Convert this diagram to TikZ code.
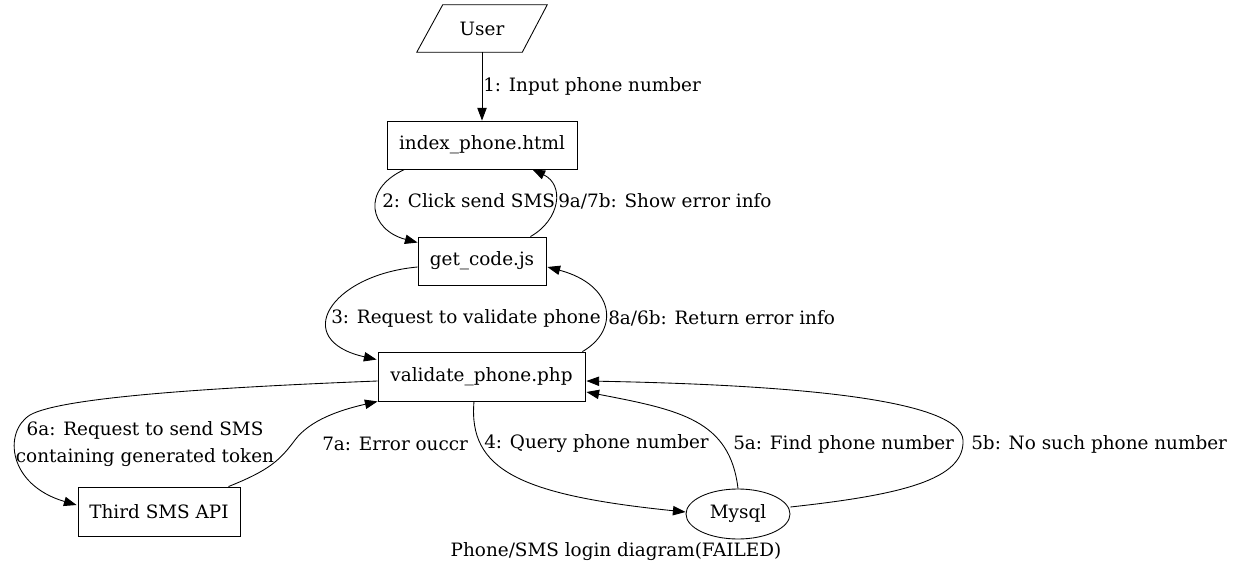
\documentclass[tikz,border=0pt]{standalone}
\usepackage{fontspec}
\setmainfont{DejaVu Serif}
\usetikzlibrary{arrows.meta,shapes.geometric,calc}
\tikzset{
  lbl/.style={font=\fontsize{13.8}{20}\selectfont, inner sep=0pt},
  box/.style={draw, line width=0.65pt, rectangle, inner sep=0pt, font=\fontsize{13.8}{16}\selectfont},
  edge/.style={line width=0.65pt, -{Triangle[length=9.5pt,width=7pt]}}
}
\begin{document}
\begin{tikzpicture}[x=0.75pt,y=-0.75pt]
\useasboundingbox (0,0) rectangle (1234,573);
% nodes
\node[inner sep=0pt, minimum width=97.5pt, minimum height=35.25pt, font=\fontsize{13.8}{16}\selectfont] (user) at (482,28.5) {User};
\draw[line width=0.65pt] ($(user.north west)+(26,0)$) -- (user.north east) -- ($(user.south east)+(-25,0)$) -- (user.south west) -- cycle;
\node[box, minimum width=142.5pt, minimum height=36pt] (idx) at (482,145) {index\_phone.html};
\node[box, minimum width=96pt, minimum height=36pt] (gc) at (482,261) {get\_code.js};
\node[box, minimum width=155.25pt, minimum height=36.75pt] (val) at (481.5,376.5) {validate\_phone.php};
\node[box, minimum width=121.5pt, minimum height=36.75pt] (sms) at (159,511.5) {Third SMS API};
\node[box, ellipse, minimum width=78pt, minimum height=37.5pt] (db) at (738,514) {Mysql};
\node[lbl] (cap) at (616,552) {Phone/SMS login diagram(FAILED)};
% edges
\draw[edge] (user.south) -- (idx.north);
\node[lbl, anchor=west] (l1) at (483,86) {1: Input phone number};

\draw[edge] ($(idx.south west)+(18,0)$) .. controls (360,190) and (370,230) .. ($(gc.north west)+(0,6)$);
\node[lbl, anchor=west] (l2) at (382,201) {2: Click send SMS};

\draw[edge] ($(gc.north east)+(-16,0)$) .. controls (560,220) and (565,185) .. ($(idx.south east)+(-45,0)$);
\node[lbl, anchor=west] (l3) at (558,201) {9a/7b: Show error info};

\draw[edge] ($(gc.west)+(0,6)$) .. controls (330,275) and (290,340) .. ($(val.north west)+(-1,8)$);
\node[lbl, anchor=west] (l4) at (331,318) {3: Request to validate phone};

\draw[edge] ($(val.north east)+(-3,0)$) .. controls (620,330) and (615,285) .. ($(gc.east)+(1,6)$);
\node[lbl, anchor=west] (l5) at (608,318) {8a/6b: Return error info};

\draw[edge] ($(val.west)+(0,4.5)$) .. controls (200,388) and (60,398) .. (30,415) .. controls (3,432) and (8,485) .. ($(sms.west)+(-1,-6.5)$);
\node[lbl, align=center] (l6) at (145,444) {6a: Request to send SMS\\containing generated token};

\draw[edge] ($(sms.north east)+(-12,0)$) .. controls (270,470) and (280,460) .. (295,440) .. controls (310,420) and (340,410) .. ($(val.south west)+(0,0)$);
\node[lbl, anchor=west] (l7) at (322,444) {7a: Error ouccr};

\draw[edge] ($(val.south)+(-7.5,0)$) .. controls (468,470) and (520,495) .. ($(db.west)+(0,-2)$);
\node[lbl, anchor=west] (l8) at (484,444) {4: Query phone number};

\draw[edge] (db.north) .. controls (730,420) and (680,410) .. ($(val.east)+(1,15.5)$);
\node[lbl, anchor=west] (l9) at (733,444) {5a: Find phone number};

\draw[edge] ($(db.east)+(0,-7)$) .. controls (900,495) and (965,480) .. (963,440) .. controls (960,400) and (800,385) .. ($(val.east)+(1,4.5)$);
\node[lbl, anchor=west] (l10) at (971,444) {5b: No such phone number};
\end{tikzpicture}
\end{document}
